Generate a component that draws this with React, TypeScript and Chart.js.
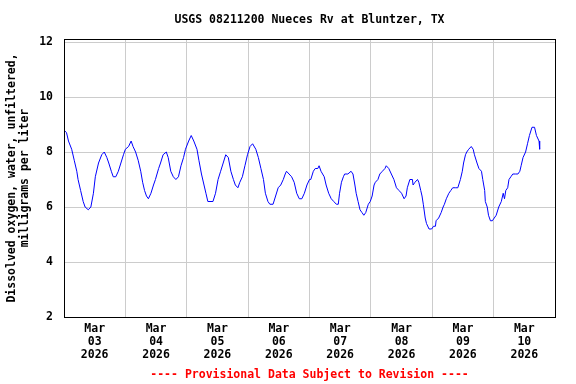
import React, { useEffect, useRef } from 'react';
import { Chart, registerables } from 'chart.js';

Chart.register(...registerables);

const TITLE = 'USGS 08211200 Nueces Rv at Bluntzer, TX';
const Y_TITLE = ['Dissolved oxygen, water, unfiltered,', 'milligrams per liter'];
const FOOTER = '---- Provisional Data Subject to Revision ----';
const MONTH = 'Mar';
const YEAR = '2026';
const DAYS = ['03', '04', '05', '06', '07', '08', '09', '10'];
const Y_TICKS = [2, 4, 6, 8, 10, 12];

// hours since Mar 03 2026 00:00
const HOURS = [
  0, 1, 1.75, 3, 4, 5, 5.5, 6.5, 7.5, 8.25,
  9.5, 10.5, 11.5, 12.25, 13.5, 14.75, 15.75, 16.75, 17.5, 18.5,
  19.25, 20.25, 21.25, 22.25, 23.25, 24, 25.25, 26.25, 27, 28,
  29, 30, 30.75, 31.5, 32.25, 33, 34, 35, 35.75, 37,
  37.75, 38.75, 40, 40.75, 41.75, 42.75, 43.75, 44.75, 45.75, 46.75,
  47.5, 48.75, 49.75, 50.75, 52, 52.75, 53.75, 54.75, 55.5, 56.25,
  58.25, 59.25, 60.25, 61.25, 62.25, 63.25, 64.25, 65.25, 66.25, 67,
  68, 68.75, 69.75, 70.75, 71.75, 72.75, 73.75, 75, 76, 77,
  78, 78.75, 79.75, 80.5, 81.75, 82.75, 83.75, 84.75, 85.75, 86.5,
  87, 88, 89, 90, 91, 92, 93, 94, 95, 96,
  96.5, 97.5, 98.25, 99.25, 99.75, 100.5, 101.75, 102.5, 103.5, 104.5,
  105.5, 106.5, 107.25, 107.75, 108.5, 109.25, 109.75, 111, 112.25, 113,
  113.75, 114.25, 115, 115.75, 116.5, 117.25, 118, 119, 119.75, 120.5,
  121.25, 121.75, 122.75, 123.5, 124.5, 125.5, 126, 127, 128, 129,
  130, 131, 132, 133, 133.75, 134.25, 135.25, 136.25, 136.5, 137.25,
  138.25, 138.75, 139.5, 140, 140.5, 141.25, 141.75, 142.75, 143.75, 144.5,
  145.25, 145.5, 146.5, 147.5, 148.25, 148.75, 149.5, 150.5, 151.25, 152,
  153, 154, 155, 155.75, 156.25, 157, 157.5, 158.25, 159.25, 160,
  160.5, 161.5, 162.25, 163.25, 163.75, 164.5, 164.75, 165.5, 166, 166.75,
  167.5, 168.25, 169, 170, 171, 171.75, 172.25, 172.75, 173.5, 174,
  174.75, 175.5, 176.5, 177.5, 178.25, 178.75, 179.5, 180.5, 181.25, 182,
  183, 184, 184.75, 185.75, 186,
];

// dissolved oxygen, mg/L
const DO_MGL = [
  8.8, 8.7, 8.4, 8.1, 7.7, 7.3, 7.0, 6.6, 6.2, 6.0,
  5.9, 6.0, 6.5, 7.1, 7.6, 7.9, 8.0, 7.8, 7.6, 7.3,
  7.1, 7.1, 7.3, 7.6, 7.9, 8.1, 8.2, 8.4, 8.2, 8.0,
  7.7, 7.3, 6.9, 6.6, 6.4, 6.3, 6.5, 6.8, 7.0, 7.4,
  7.6, 7.9, 8.0, 7.8, 7.3, 7.1, 7.0, 7.1, 7.5, 7.8,
  8.1, 8.4, 8.6, 8.4, 8.1, 7.7, 7.2, 6.8, 6.5, 6.2,
  6.2, 6.5, 7.0, 7.3, 7.6, 7.9, 7.8, 7.3, 7.0, 6.8,
  6.7, 6.9, 7.1, 7.5, 7.9, 8.2, 8.3, 8.1, 7.8, 7.4,
  7.0, 6.5, 6.2, 6.1, 6.1, 6.4, 6.7, 6.8, 7.0, 7.2,
  7.3, 7.2, 7.1, 6.9, 6.5, 6.3, 6.3, 6.5, 6.8, 7.0,
  7.0, 7.3, 7.4, 7.4, 7.5, 7.3, 7.1, 6.8, 6.5, 6.3,
  6.2, 6.1, 6.1, 6.5, 6.9, 7.1, 7.2, 7.2, 7.3, 7.2,
  6.8, 6.5, 6.2, 5.9, 5.8, 5.7, 5.8, 6.1, 6.2, 6.4,
  6.8, 6.9, 7.0, 7.2, 7.3, 7.4, 7.5, 7.4, 7.2, 7.0,
  6.7, 6.6, 6.5, 6.3, 6.4, 6.7, 7.0, 7.0, 6.8, 6.9,
  7.0, 6.9, 6.6, 6.4, 6.1, 5.6, 5.4, 5.2, 5.2, 5.3,
  5.3, 5.5, 5.6, 5.8, 6.0, 6.1, 6.3, 6.5, 6.6, 6.7,
  6.7, 6.7, 7.0, 7.3, 7.6, 7.9, 8.0, 8.1, 8.2, 8.1,
  7.9, 7.6, 7.4, 7.3, 7.0, 6.6, 6.2, 6.0, 5.7, 5.5,
  5.5, 5.6, 5.7, 6.0, 6.2, 6.5, 6.3, 6.6, 6.7, 7.0,
  7.1, 7.2, 7.2, 7.2, 7.3, 7.5, 7.8, 8.0, 8.3, 8.6,
  8.9, 8.9, 8.6, 8.4, 8.1,
];

const FONT_FAMILY = '"DejaVu Sans Mono", "Liberation Mono", monospace';
const FONT_SIZE = 11.5;

const textPlugin = {
  id: 'usgsText',
  afterDraw(chart: any) {
    const { ctx, chartArea } = chart;
    const { left, right, top, bottom } = chartArea;
    ctx.save();
    // frame
    ctx.strokeStyle = '#000000';
    ctx.lineWidth = 1;
    ctx.strokeRect(Math.round(left) + 0.5, Math.round(top) + 0.5, Math.round(right - left), Math.round(bottom - top));
    const cx = (left + right) / 2;
    ctx.font = `bold ${FONT_SIZE}px ${FONT_FAMILY}`;
    ctx.textAlign = 'center';
    ctx.textBaseline = 'middle';
    ctx.fillStyle = '#000000';
    ctx.fillText(TITLE, cx, 20);
    ctx.fillStyle = '#ff0000';
    ctx.fillText(FOOTER, cx, 375);
    // y-axis title
    const cy = (top + bottom) / 2;
    ctx.fillStyle = '#000000';
    ctx.save();
    ctx.translate(12, cy);
    ctx.rotate(-Math.PI / 2);
    ctx.fillText(Y_TITLE[0], 0, 0);
    ctx.restore();
    ctx.save();
    ctx.translate(25, cy);
    ctx.rotate(-Math.PI / 2);
    ctx.fillText(Y_TITLE[1], 0, 0);
    ctx.restore();
    ctx.restore();
  },
};

export default function App() {
  const canvasRef = useRef<HTMLCanvasElement>(null);

  useEffect(() => {
    if (!canvasRef.current) return;
    const font = { family: FONT_FAMILY, size: FONT_SIZE, weight: 'bold' as const, lineHeight: '13px' };
    const chart = new Chart(canvasRef.current, {
      type: 'line',
      data: {
        datasets: [
          {
            data: HOURS.map((h, i) => ({ x: h, y: DO_MGL[i] })),
            borderColor: '#0000ff',
            borderWidth: 1,
            pointRadius: 0,
            tension: 0,
            fill: false,
          },
        ],
      },
      options: {
        animation: false,
        responsive: false,
        devicePixelRatio: 1,
        layout: { padding: { top: 39, right: 21, left: 0, bottom: 0 } },
        plugins: {
          legend: { display: false },
          tooltip: { enabled: false },
          title: { display: false },
        },
        scales: {
          x: {
            type: 'linear',
            min: 0,
            max: DAYS.length * 24,
            afterBuildTicks: (scale: any) => {
              const ticks: any[] = [];
              DAYS.forEach((_, i) => {
                ticks.push({ value: i * 24 });
                ticks.push({ value: i * 24 + 12 });
              });
              ticks.push({ value: DAYS.length * 24 });
              scale.ticks = ticks;
            },
            afterFit: (scale: any) => {
              scale.height = 67;
            },
            grid: {
              color: (c: any) => (c.tick && c.tick.value % 24 === 0 ? '#cccccc' : 'rgba(0,0,0,0)'),
              lineWidth: 1,
              drawTicks: false,
            },
            border: { display: false },
            ticks: {
              autoSkip: false,
              maxRotation: 0,
              minRotation: 0,
              padding: 6,
              color: '#000000',
              font,
              callback: (value: any) => {
                const v = Number(value);
                if (v % 24 === 12) return [MONTH, DAYS[(v - 12) / 24], YEAR];
                return '';
              },
            },
          },
          y: {
            type: 'linear',
            min: 2,
            max: 12.11,
            afterBuildTicks: (scale: any) => {
              scale.ticks = Y_TICKS.map((v) => ({ value: v }));
            },
            afterFit: (scale: any) => {
              scale.width = 64;
            },
            grid: { color: '#cccccc', lineWidth: 1, drawTicks: false },
            border: { display: false },
            ticks: {
              padding: 11,
              color: '#000000',
              font,
              callback: (value: any) => String(value),
            },
          },
        },
      },
      plugins: [textPlugin],
    });
    return () => chart.destroy();
  }, []);

  return (
    <div style={{ position: 'fixed', left: 0, top: 0, width: 576, height: 384, background: '#ffffff' }}>
      <canvas ref={canvasRef} width={576} height={384} style={{ display: 'block' }} />
    </div>
  );
}
